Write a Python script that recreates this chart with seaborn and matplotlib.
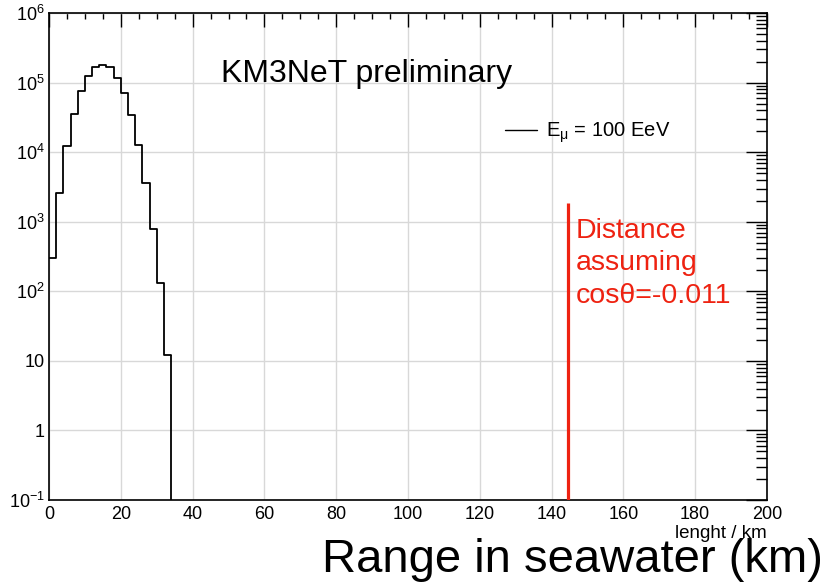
import numpy as np
import pandas as pd
import seaborn as sns
import matplotlib.pyplot as plt
from matplotlib.lines import Line2D
from matplotlib.ticker import LogLocator, FuncFormatter, MultipleLocator

# histogram of muon range (2 km bins, 0-34 km)
bin_edges = [0, 2, 4, 6, 8, 10, 12, 14, 16, 18, 20, 22, 24, 26, 28, 30, 32, 34]
counts = [300, 2600, 12200, 35000, 76000, 124000, 165000, 180000, 165000,
          118000, 70000, 34000, 12500, 3600, 790, 132, 12]

distance_km = 144.6
distance_top = 1850
legend_label = r'E$_{\mathregular{\mu}}$ = 100 EeV'

df = pd.DataFrame({
    'center': [(a + b) / 2 for a, b in zip(bin_edges[:-1], bin_edges[1:])],
    'count': counts,
})

sns.set_theme(style='whitegrid')
plt.rcParams['font.family'] = ['Liberation Sans', 'DejaVu Sans']
plt.rcParams['mathtext.fontset'] = 'custom'
plt.rcParams['mathtext.rm'] = 'Liberation Sans'
plt.rcParams['mathtext.it'] = 'Liberation Sans'
plt.rcParams['text.color'] = 'black'
plt.rcParams['axes.labelcolor'] = 'black'

fig = plt.figure(figsize=(8.27, 5.84), dpi=100)
ax = fig.add_axes([0.0593, 0.1438, 0.8681, 0.8339])

sns.histplot(data=df, x='center', weights='count', bins=bin_edges,
             element='step', fill=False, color='black', linewidth=1.3, ax=ax)
ax.set_yscale('log')
ax.set_xlim(0, 200)
ax.set_ylim(0.1, 1e6)
# closing edge of the last bin down to the axis
ax.vlines(bin_edges[-1], 0.1, counts[-1], color='black', linewidth=1.3)

# red distance marker
ax.vlines(distance_km, 0.1, distance_top, color='#ee2211', linewidth=2.3, zorder=5)
ax.text(146.8, 10 ** 2.40, 'Distance\nassuming\ncosθ=-0.011', color='#ee2211',
        fontsize=20.5, va='center', ha='left', linespacing=1.33)

ax.text(48, 10 ** 5.13, 'KM3NeT preliminary', fontsize=23, va='center', ha='left')

handle = Line2D([], [], color='black', linewidth=1.0)
ax.legend([handle], [legend_label], loc='center left', bbox_to_anchor=(0.635, 0.754),
          frameon=False, fontsize=14.5, handlelength=1.6, handletextpad=0.45,
          borderaxespad=0, borderpad=0)

# ROOT-like ticks and grid
ax.xaxis.set_major_locator(MultipleLocator(20))
ax.xaxis.set_minor_locator(MultipleLocator(5))
ax.yaxis.set_major_locator(LogLocator(base=10, numticks=20))
ax.yaxis.set_minor_locator(LogLocator(base=10, subs=np.arange(2, 10), numticks=20))


def fmt_log(v, pos):
    e = int(round(np.log10(v)))
    if e == 0:
        return '1'
    if e == 1:
        return '10'
    return r'$\mathregular{10^{%d}}$' % e


ax.yaxis.set_major_formatter(FuncFormatter(fmt_log))
ax.tick_params(axis='both', which='both', direction='in', top=True, right=True,
               colors='black', labelsize=13, width=1.0)
ax.tick_params(axis='x', which='major', length=10, pad=4)
ax.tick_params(axis='x', which='minor', length=4.5)
ax.tick_params(axis='y', which='major', length=15, pad=3)
ax.tick_params(axis='y', which='minor', length=8)
ax.grid(True, which='major', color='#d8d8d8', linewidth=1.0)
ax.grid(False, which='minor')
for s in ax.spines.values():
    s.set_color('black')
    s.set_linewidth(1.2)

ax.set_ylabel('')
ax.set_xlabel('lenght / km', fontsize=13.5, loc='right', labelpad=2)

fig.text(0.389, 0.021, 'Range in seawater (km)', fontsize=34, va='baseline', ha='left')

fig.savefig('out.png', dpi=100)
